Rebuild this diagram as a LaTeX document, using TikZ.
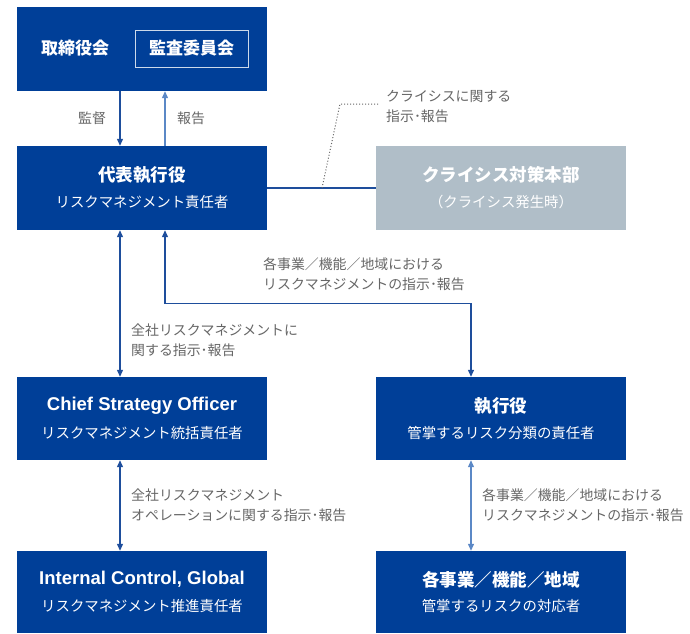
\documentclass[tikz,border=0pt]{standalone}
\usepackage{fontspec}
\setmainfont{Noto Sans CJK JP}
\newfontfamily\latinf{Liberation Sans}
\usetikzlibrary{arrows.meta}
\definecolor{navy}{HTML}{003F98}
\definecolor{crisis}{HTML}{B0BEC8}
\definecolor{lbl}{HTML}{666666}
\definecolor{adark}{HTML}{1E4E9C}
\definecolor{alight}{HTML}{5B88C6}
\tikzset{
  box/.style={fill=navy, text=white, minimum width=250pt, minimum height=84pt, inner sep=0pt, align=center},
  graybox/.style={box, fill=crisis},
  lab/.style={text=lbl, align=left, anchor=west, inner sep=0pt, font=\fontsize{13.9}{20}\selectfont},
  conn/.style={draw=adark, line width=1.2pt},
  connl/.style={draw=alight, line width=1.2pt},
  tip/.style={-{Triangle[length=7pt,width=6pt]}},
  dtip/.style={{Triangle[length=7pt,width=6pt]}-{Triangle[length=7pt,width=6pt]}},
}
\newcommand{\twoline}[2]{{\bfseries\fontsize{17.5}{20}\selectfont #1}\\[11pt]{\fontsize{14.4}{17}\selectfont #2}}
\begin{document}
\begin{tikzpicture}[x=1pt,y=-1pt]
\useasboundingbox (0,0) rectangle (690,633);
% boxes
\node[box, minimum height=84pt] (board) at (142,49) {};
\node[text=white, font=\bfseries\fontsize{17}{20}\selectfont, inner sep=0pt] (boardtxt) at (75,48.5) {取締役会};
\node[draw=white!80!navy, line width=0.8pt, minimum width=113pt, minimum height=37pt, text=white, inner sep=0pt, font=\bfseries\fontsize{17}{20}\selectfont] (audit) at (191.5,48.5) {監査委員会};
\node[box] (rep) at (142,188) {\twoline{代表執行役}{リスクマネジメント責任者}};
\node[graybox] (crisis) at (501,188) {\twoline{クライシス対策本部}{（クライシス発生時）}};
\node[box, minimum height=83pt] (cso) at (142,418.5) {\twoline{\latinf\bfseries\fontsize{18.5}{20}\selectfont Chief Strategy Officer}{リスクマネジメント統括責任者}};
\node[box, minimum height=83pt] (exec) at (501,418.5) {\twoline{執行役}{管掌するリスク分類の責任者}};
\node[box, minimum height=82pt] (icg) at (142,592) {\twoline{\latinf\bfseries\fontsize{18.5}{20}\selectfont Internal Control, Global}{リスクマネジメント推進責任者}};
\node[box, minimum height=82pt] (biz) at (501,592) {\twoline{各事業／機能／地域}{管掌するリスクの対応者}};
% connectors
\draw[conn, tip] ([xshift=-22pt]board.south) -- ([xshift=-22pt]rep.north);
\draw[connl, tip] ([xshift=23pt]rep.north) -- ([xshift=23pt]board.south);
\node[lab] (l1) at (78,118) {監督};
\node[lab] (l2) at (177,118) {報告};
\draw[conn] (rep.east) -- (crisis.west);
\coordinate (dA) at (322,188);
\coordinate (dB) at (340,104);
\coordinate (dC) at (378,104);
\draw[lbl, dotted, line width=1pt] (dA) -- (dB) -- (dC);
\node[lab] (l3) at (386,107) {クライシスに関する\\指示･報告};
\draw[conn, dtip] ([xshift=-22pt]rep.south) -- ([xshift=-22pt]cso.north);
\node[lab] (l4) at (131,340) {全社リスクマネジメントに\\関する指示･報告};
\draw[conn, dtip] ([xshift=23pt]rep.south) -- ++(0,73) -| ([xshift=-30pt]exec.north);
\node[lab] (l5) at (263,274.5) {各事業／機能／地域における\\リスクマネジメントの指示･報告};
\draw[conn, dtip] ([xshift=-22pt]cso.south) -- ([xshift=-22pt]icg.north);
\node[lab] (l6) at (131,505) {全社リスクマネジメント\\オペレーションに関する指示･報告};
\draw[connl, dtip] ([xshift=-30pt]exec.south) -- ([xshift=-30pt]biz.north);
\node[lab] (l7) at (482,505) {各事業／機能／地域における\\リスクマネジメントの指示･報告};
\end{tikzpicture}
\end{document}
